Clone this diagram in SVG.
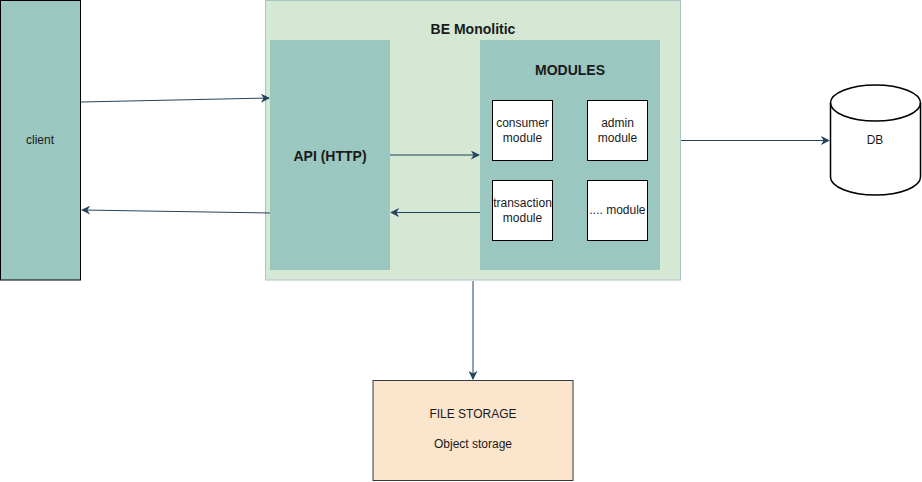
<svg xmlns="http://www.w3.org/2000/svg" width="922" height="482" viewBox="0 0 922 482">
<style>
text{font-family:"Liberation Sans",Arial,sans-serif;font-size:12px;fill:#1a1a1a;text-anchor:middle;dominant-baseline:central}
.b{font-weight:bold;font-size:14px}
.teal{fill:#9AC7BF}
.mod{fill:#ffffff;stroke:#000000;stroke-width:1}
.conn{fill:none;stroke:#23445D;stroke-width:1}
</style>
<defs>
<marker id="ah" viewBox="0 0 10 10" refX="9" refY="5" markerWidth="9" markerHeight="9" markerUnits="userSpaceOnUse" orient="auto">
<path d="M0,0 L10,5 L0,10 L3,5 Z" fill="#23445D"/>
</marker>
</defs>
<rect width="922" height="482" fill="#ffffff"/>
<g id="client">
<rect x="0.5" y="0.5" width="80" height="279.5" class="teal" stroke="#000" stroke-width="1"/>
<text x="40" y="140">client</text>
</g>
<g id="be-monolitic">
<rect x="265.5" y="0.5" width="415" height="279.5" fill="#D5E8D4" stroke="#A9C6C6" stroke-width="1"/>
<text class="b" x="473" y="29">BE Monolitic</text>
</g>
<g id="api">
<rect x="270" y="40" width="120" height="230" class="teal"/>
<text class="b" x="330" y="156">API (HTTP)</text>
</g>
<g id="modules">
<rect x="480" y="40" width="180" height="230" class="teal"/>
<text class="b" x="570" y="70">MODULES</text>
</g>
<g id="consumer-module">
<rect x="492.5" y="100.5" width="60" height="60" class="mod"/>
<text x="522.5" y="123">consumer</text>
<text x="522.5" y="138">module</text>
</g>
<g id="admin-module">
<rect x="587.5" y="100.5" width="60" height="60" class="mod"/>
<text x="617.5" y="123">admin</text>
<text x="617.5" y="138">module</text>
</g>
<g id="transaction-module">
<rect x="492.5" y="180.5" width="60" height="60" class="mod"/>
<text x="522.5" y="203">transaction</text>
<text x="522.5" y="218">module</text>
</g>
<g id="other-module">
<rect x="587.5" y="180.5" width="60" height="60" class="mod"/>
<text x="617.5" y="210">.... module</text>
</g>
<g id="db">
<path d="M830.5,103 A45,18 0 0 1 920.5,103 L920.5,177 A45,18 0 0 1 830.5,177 Z" fill="#ffffff" stroke="#000" stroke-width="1.5"/>
<path d="M830.5,103 A45,18 0 0 0 920.5,103" fill="none" stroke="#000" stroke-width="1.5"/>
<text x="875" y="140">DB</text>
</g>
<g id="file-storage">
<rect x="373" y="380.5" width="200" height="100" fill="#FCE5CD" stroke="#36393d" stroke-width="1"/>
<text x="473" y="414">FILE STORAGE</text>
<text x="473" y="444">Object storage</text>
</g>
<g id="connectors">
<path class="conn" d="M81,102 L269,98" marker-end="url(#ah)"/>
<path class="conn" d="M270,213 L82,210" marker-end="url(#ah)"/>
<path class="conn" d="M390,155 L479,155" marker-end="url(#ah)"/>
<path class="conn" d="M480,212.5 L391,212.5" marker-end="url(#ah)"/>
<path class="conn" d="M681,140.5 L829,140.5" marker-end="url(#ah)"/>
<path class="conn" d="M473,281 L473,379" marker-end="url(#ah)"/>
</g>
</svg>
